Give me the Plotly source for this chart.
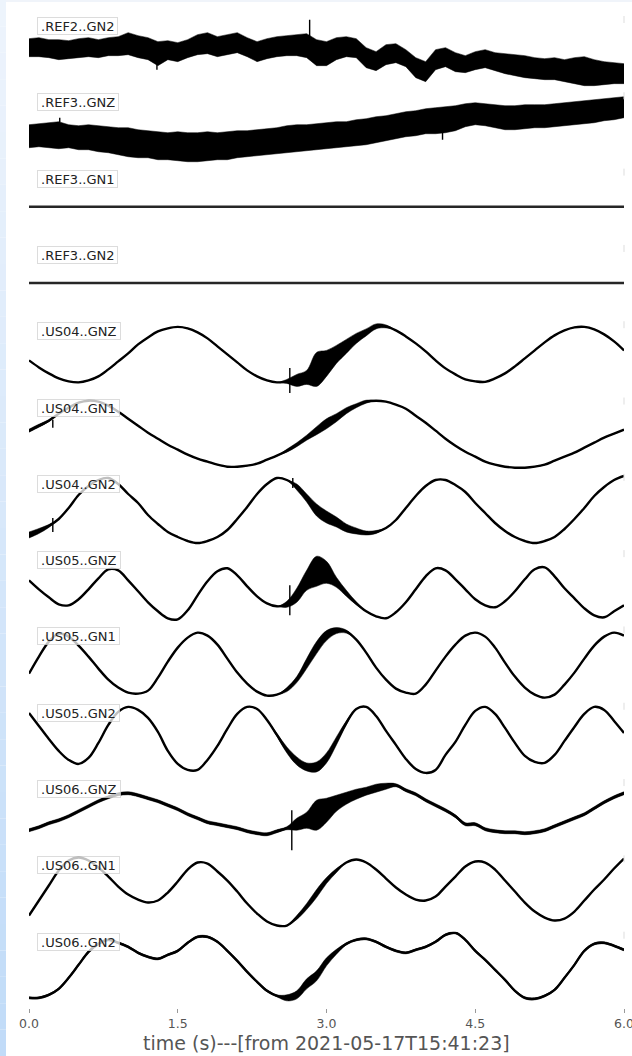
import plotly.graph_objects as go

# Sample times (s) after 2021-05-17T15:41:23
TIME_S = [0.0, 0.1, 0.2, 0.3, 0.4, 0.5, 0.6, 0.7, 0.8, 0.9,
          1.0, 1.1, 1.2, 1.3, 1.4, 1.5, 1.6, 1.7, 1.8, 1.9,
          2.0, 2.1, 2.2, 2.3, 2.4, 2.5, 2.6, 2.7, 2.8, 2.9,
          3.0, 3.1, 3.2, 3.3, 3.4, 3.5, 3.6, 3.7, 3.8, 3.9,
          4.0, 4.1, 4.2, 4.3, 4.4, 4.5, 4.6, 4.7, 4.8, 4.9,
          5.0, 5.1, 5.2, 5.3, 5.4, 5.5, 5.6, 5.7, 5.8, 5.9,
          6.0]

STATION_NAMES = [".REF2..GN2", ".REF3..GNZ", ".REF3..GN1", ".REF3..GN2",
                 ".US04..GNZ", ".US04..GN1", ".US04..GN2",
                 ".US05..GNZ", ".US05..GN1", ".US05..GN2",
                 ".US06..GNZ", ".US06..GN1", ".US06..GN2"]

X_TICKS = [0.0, 1.5, 3.0, 4.5, 6.0]
X_TICK_TEXT = ["0.0", "1.5", "3.0", "4.5", "6.0"]
X_TITLE = "time (s)---[from 2021-05-17T15:41:23]"

# Trace amplitudes (mean level) and peak-to-peak noise width, arbitrary counts
REF2_GN2 = [6.5, 7, 5.5, 4.5, 4.5, 6, 7, 5.5, 7.5, 8,
            10.5, 7.5, 5.5, 0.5, 4, 2, 5.5, 9.5, 11, 7.5,
            9.5, 11.5, 7, 2.5, 5.5, 7.5, 8.5, 9, 8.5, 1.5,
            0.5, 5.5, 7.5, 6, -3.5, -7, -0.5, 1, -4, -13.5,
            -17.5, -5.5, -3, -8, -10, -6.5, -4.5, -7.5, -9.5, -11,
            -12.5, -14, -15, -14.5, -16.5, -16.5, -17, -18.5, -19, -19,
            -19.5]
REF2_GN2_SPREAD = [18, 19, 18, 20, 18, 19, 19, 18, 18, 19,
                   22, 22, 22, 24, 19, 19, 18, 20, 21, 20,
                   20, 20, 19, 20, 20, 20, 20, 21, 24, 26,
                   24, 22, 20, 19, 20, 19, 20, 19, 17, 20,
                   20, 20, 19, 19, 17, 18, 18, 18, 20, 21,
                   22, 21, 21, 22, 22, 26, 29, 26, 23, 21,
                   20]
REF2_GN2_SPIKES = [(1.29, -10.0, -15.5), (2.83, 14.0, 34.5)]

REF3_GNZ = [-5.75, -4.75, -4.75, -4.75, -5.75, -7.25, -6.75, -8.25, -9.25, -10.75,
            -11.75, -13.25, -13.75, -15.25, -15.75, -15.75, -16.75, -16.75, -15.75, -15.75,
            -15.25, -13.75, -13.25, -12.25, -11.25, -10.25, -8.75, -7.75, -7.25, -6.25,
            -5.25, -4.25, -3.75, -2.25, -1.25, 0.75, 2.25, 4.25, 6.25, 7.25,
            9.25, 9.75, 10.75, 12.25, 15.25, 16.75, 15.75, 14.25, 12.75, 12.75,
            13.75, 14.25, 14.25, 15.25, 16.25, 17.25, 18.25, 19.25, 20.75, 21.75,
            23.25]
REF3_GNZ_SPREAD = [23, 23, 25, 27, 23, 24, 25, 26, 26, 27,
                   29, 28, 27, 28, 27, 29, 29, 29, 29, 27,
                   28, 27, 26, 26, 26, 26, 27, 27, 26, 26,
                   26, 26, 25, 26, 26, 26, 25, 25, 25, 25,
                   25, 26, 26, 25, 23, 22, 22, 23, 24, 24,
                   24, 23, 23, 23, 23, 23, 23, 23, 22, 22,
                   21]
REF3_GNZ_SPIKES = [(0.31, 8.0, 12.75), (4.17, -1.0, -9.25)]

REF3_GN1 = [0, 0, 0, 0, 0, 0, 0, 0, 0, 0,
            0, 0, 0, 0, 0, 0, 0, 0, 0, 0,
            0, 0, 0, 0, 0, 0, 0, 0, 0, 0,
            0, 0, 0, 0, 0, 0, 0, 0, 0, 0,
            0, 0, 0, 0, 0, 0, 0, 0, 0, 0,
            0, 0, 0, 0, 0, 0, 0, 0, 0, 0,
            0]

REF3_GN2 = [0, 0, 0, 0, 0, 0, 0, 0, 0, 0,
            0, 0, 0, 0, 0, 0, 0, 0, 0, 0,
            0, 0, 0, 0, 0, 0, 0, 0, 0, 0,
            0, 0, 0, 0, 0, 0, 0, 0, 0, 0,
            0, 0, 0, 0, 0, 0, 0, 0, 0, 0,
            0, 0, 0, 0, 0, 0, 0, 0, 0, 0,
            0]

US04_GNZ = [-1, -8, -14, -19, -22, -23, -21, -17, -10, -2,
            6, 15, 22, 28, 31, 32.5, 31, 27, 21, 13,
            5, -3, -11, -17, -21, -23, -22, -21, -18, -10,
            -4, 5, 13, 21, 27, 33, 33, 29, 23, 16,
            8, -1, -9, -15, -20, -22, -22.5, -19, -14, -7,
            1, 9, 17, 24, 29, 32, 32.5, 30, 25, 18,
            9]
US04_GNZ_SPREAD = [0, 0, 0, 0, 0, 0, 0, 0, 0, 0,
                   0, 0, 0, 0, 0, 0, 0, 0, 0, 0,
                   0, 0, 0, 0, 0, 0, 4, 12, 14, 34,
                   26, 18, 14, 10, 7, 5, 3, 0, 0, 0,
                   0, 0, 0, 0, 0, 0, 0, 0, 0, 0,
                   0, 0, 0, 0, 0, 0, 0, 0, 0, 0,
                   0]
US04_GNZ_SPIKES = [(2.63, -8.5, -33.5)]

US04_GN1 = [5, 10, 15, 22, 28, 33, 35, 34, 30, 24,
            17, 10, 3, -3, -9, -14, -19, -23, -26, -29,
            -31, -31, -30, -28, -24, -20, -15, -9, -2, 5,
            12, 18, 25, 30, 34, 35, 34, 31, 27, 20,
            13, 5, -3, -10, -16, -21, -26, -29, -31, -32,
            -32, -31, -29, -25, -21, -17, -12, -7, -2, 2,
            6]
US04_GN1_SPREAD = [3, 3, 2, 0, 0, 0, 0, 0, 0, 0,
                   0, 0, 0, 0, 0, 0, 0, 0, 0, 0,
                   0, 0, 0, 0, 0, 0, 3, 4, 5, 8,
                   10, 8, 6, 4, 3, 0, 0, 0, 0, 0,
                   0, 0, 0, 0, 0, 0, 0, 0, 0, 0,
                   0, 0, 0, 0, 0, 0, 0, 0, 0, 0,
                   0]
US04_GN1_SPIKES = [(0.24, 16.0, 8.0)]

US04_GN2 = [-23, -19, -14, -7, 4, 17, 26, 32, 34, 28,
            18, 9, -3, -12, -20, -25, -29, -31, -29, -25,
            -18, -7, 5, 18, 28, 34, 32, 25, 14, 2,
            -5, -10, -16, -19, -21, -20, -16, -8, 4, 16,
            26, 32, 32, 27, 20, 9, -1, -11, -19, -25,
            -29, -31, -29, -25, -17, -7, 4, 16, 25, 32,
            36]
US04_GN2_SPREAD = [6, 5, 3, 0, 0, 0, 0, 0, 0, 0,
                   0, 0, 0, 0, 0, 0, 0, 0, 0, 0,
                   0, 0, 0, 0, 0, 0, 0, 6, 8, 12,
                   12, 10, 8, 6, 4, 3, 0, 0, 0, 0,
                   0, 0, 0, 0, 0, 0, 0, 0, 0, 0,
                   0, 0, 0, 0, 0, 0, 0, 0, 0, 0,
                   0]
US04_GN2_SPIKES = [(0.24, -6.0, -20.0), (2.66, 34.0, 24.0)]

US05_GNZ = [8, -1, -9, -16, -17, -11, -1, 10, 19, 18,
            8, -3, -14, -23, -30, -31, -22, -7, 7, 17,
            20, 13, 2, -8, -15, -18, -16, -7, 8, 17,
            16, 6, -5, -15, -23, -28, -30, -24, -14, -1,
            12, 20, 18, 9, -1, -11, -17, -19, -13, -3,
            9, 19, 21, 12, 0, -10, -20, -27, -29, -23,
            -17]
US05_GNZ_SPREAD = [0, 0, 0, 0, 0, 0, 0, 0, 0, 0,
                   0, 0, 0, 0, 0, 0, 0, 0, 0, 0,
                   0, 0, 0, 0, 0, 0, 6, 14, 20, 30,
                   22, 10, 6, 3, 0, 0, 0, 0, 0, 0,
                   0, 0, 0, 0, 0, 0, 0, 0, 0, 0,
                   0, 0, 0, 0, 0, 0, 0, 0, 0, 0,
                   0]
US05_GNZ_SPIKES = [(2.63, 3.0, -27.0)]

US05_GN1 = [-9, 8, 23, 31, 28, 19, 8, -4, -15, -23,
            -28, -29, -26, -13, 3, 17, 27, 32, 29, 20,
            6, -8, -19, -27, -31, -30, -25, -15, 1, 17,
            29, 34, 33, 25, 12, -3, -15, -24, -28, -29,
            -20, -6, 8, 20, 29, 32, 28, 17, 2, -12,
            -23, -30, -33, -30, -20, -8, 6, 19, 28, 32,
            29]
US05_GN1_SPREAD = [0, 0, 0, 0, 0, 0, 0, 0, 0, 0,
                   0, 0, 0, 0, 0, 0, 0, 0, 0, 0,
                   0, 0, 0, 0, 0, 0, 4, 6, 10, 12,
                   10, 6, 3, 0, 0, 0, 0, 0, 0, 0,
                   0, 0, 0, 0, 0, 0, 0, 0, 0, 0,
                   0, 0, 0, 0, 0, 0, 0, 0, 0, 0,
                   0]

US05_GN2 = [28, 15, 2, -10, -19, -23, -17, -2, 16, 29,
            34, 31, 23, 9, -10, -23, -29, -29, -19, -5,
            12, 27, 34, 32, 21, 6, -9, -20, -26, -26,
            -17, 0, 18, 32, 34, 25, 10, -4, -18, -28,
            -32, -29, -14, -1, 16, 30, 34, 27, 13, -2,
            -15, -21, -22, -14, 0, 14, 27, 34, 31, 20,
            8]
US05_GN2_SPREAD = [0, 0, 0, 0, 0, 0, 0, 0, 0, 0,
                   0, 0, 0, 0, 0, 0, 0, 0, 0, 0,
                   0, 0, 0, 0, 0, 3, 6, 8, 8, 10,
                   10, 8, 4, 0, 0, 0, 0, 0, 0, 0,
                   0, 0, 0, 0, 0, 0, 0, 0, 0, 0,
                   0, 0, 0, 0, 0, 0, 0, 0, 0, 0,
                   0]

US06_GNZ = [-13, -10, -6, -3, 1, 6, 11, 16, 20, 23,
            24, 22, 19, 16, 12, 8, 3, -1, -5, -7,
            -9, -11, -14, -16, -17, -14, -11, -7, -3, 2,
            7, 14, 19, 23, 26, 29, 31, 32, 27, 23,
            17, 12, 7, 1, -7, -7, -12, -14, -15, -15,
            -16, -15, -13, -9, -5, -1, 3, 9, 15, 20,
            24]
US06_GNZ_SPREAD = [3, 3, 3, 3, 3, 3, 3, 3, 3, 3,
                   3, 3, 3, 3, 3, 3, 3, 3, 3, 3,
                   3, 3, 3, 3, 3, 3, 3, 12, 16, 30,
                   24, 16, 12, 10, 8, 8, 6, 3, 3, 3,
                   3, 3, 3, 3, 3, 3, 3, 3, 3, 3,
                   3, 3, 3, 3, 3, 3, 3, 3, 3, 3,
                   3]
US06_GNZ_SPIKES = [(2.65, 7.0, -33.0)]

US06_GN1 = [-22, -7, 8, 23, 33, 36, 33, 26, 17, 7,
            -1, -6, -9, -7, 1, 12, 24, 31, 30, 22,
            13, 2, -10, -20, -28, -32, -32, -24, -13, 0,
            13, 23, 31, 34, 31, 24, 15, 6, -1, -6,
            -7, -3, 7, 17, 27, 32, 31, 24, 13, 2,
            -9, -18, -24, -27, -25, -18, -7, 4, 14, 25,
            35]
US06_GN1_SPREAD = [0, 0, 0, 0, 0, 0, 0, 0, 0, 0,
                   0, 0, 0, 0, 0, 0, 0, 0, 0, 0,
                   0, 0, 0, 0, 0, 0, 0, 4, 6, 8,
                   6, 4, 0, 0, 0, 0, 0, 0, 0, 0,
                   0, 0, 0, 0, 0, 0, 0, 0, 0, 0,
                   0, 0, 0, 0, 0, 0, 0, 0, 0, 0,
                   0]

US06_GN2 = [-28, -28, -25, -19, -8, 5, 18, 26, 30, 27,
            23, 17, 13, 11, 15, 19, 27, 33, 33, 28,
            19, 9, -2, -12, -21, -26, -28, -25, -14, -6,
            8, 18, 26, 30, 31, 28, 23, 19, 17, 20,
            23, 28, 35, 37, 30, 19, 10, 0, -10, -21,
            -28, -29, -26, -20, -8, 5, 19, 26, 27, 24,
            20]
US06_GN2_SPREAD = [2, 2, 2, 2, 2, 2, 2, 2, 2, 2,
                   2, 2, 2, 2, 2, 2, 2, 2, 2, 2,
                   2, 2, 2, 2, 2, 2, 6, 8, 10, 10,
                   8, 5, 2, 2, 2, 2, 2, 2, 2, 2,
                   2, 2, 2, 2, 2, 2, 2, 2, 2, 2,
                   2, 2, 2, 2, 2, 2, 2, 2, 2, 2,
                   2]

CHANNELS = [
    (REF2_GN2, REF2_GN2_SPREAD, REF2_GN2_SPIKES),
    (REF3_GNZ, REF3_GNZ_SPREAD, REF3_GNZ_SPIKES),
    (REF3_GN1, None, []),
    (REF3_GN2, None, []),
    (US04_GNZ, US04_GNZ_SPREAD, US04_GNZ_SPIKES),
    (US04_GN1, US04_GN1_SPREAD, US04_GN1_SPIKES),
    (US04_GN2, US04_GN2_SPREAD, US04_GN2_SPIKES),
    (US05_GNZ, US05_GNZ_SPREAD, US05_GNZ_SPIKES),
    (US05_GN1, US05_GN1_SPREAD, []),
    (US05_GN2, US05_GN2_SPREAD, []),
    (US06_GNZ, US06_GNZ_SPREAD, US06_GNZ_SPIKES),
    (US06_GN1, US06_GN1_SPREAD, []),
    (US06_GN2, US06_GN2_SPREAD, []),
]

# ---- layout geometry ----
W, H = 632, 1056
M_L, M_R, M_T, M_B = 29, 8, 16, 48
PLOT_W = W - M_L - M_R
PLOT_H = H - M_T - M_B
N = len(CHANNELS)
HALF_RANGE = PLOT_H / N / 2.0
FONT = "DejaVu Sans"

fig = go.Figure()
layout_axes = {}
annotations = []
shapes = []

for i, (name, (values, spread, spikes)) in enumerate(zip(STATION_NAMES, CHANNELS)):
    ax = "y" if i == 0 else f"y{i + 1}"
    ax_key = "yaxis" if i == 0 else f"yaxis{i + 1}"
    top = 1 - i / N
    bottom = 1 - (i + 1) / N
    layout_axes[ax_key] = dict(domain=[bottom, top], range=[-HALF_RANGE, HALF_RANGE],
                               visible=False, fixedrange=True)

    line_color = "#000000" if i not in (2, 3) else "#262626"
    band_shape = "linear" if i < 2 else "spline"

    # noise envelope drawn as a filled band around the trace
    if spread is not None and any(s > 0 for s in spread):
        lower = [v - s / 2.0 for v, s in zip(values, spread)]
        upper = [v + s / 2.0 for v, s in zip(values, spread)]
        fig.add_trace(go.Scatter(x=TIME_S, y=lower, yaxis=ax, mode="lines",
                                 line=dict(width=0.5, color="black", shape=band_shape),
                                 hoverinfo="skip", showlegend=False))
        fig.add_trace(go.Scatter(x=TIME_S, y=upper, yaxis=ax, mode="lines",
                                 line=dict(width=0.5, color="black", shape=band_shape),
                                 fill="tonexty", fillcolor="black",
                                 hoverinfo="skip", showlegend=False))

    fig.add_trace(go.Scatter(x=TIME_S, y=values, yaxis=ax, mode="lines", name=name,
                             line=dict(width=2.4, shape="spline", color=line_color),
                             showlegend=False))

    if spikes:
        sx, sy = [], []
        for t, a, b in spikes:
            sx += [t, t, None]
            sy += [a, b, None]
        fig.add_trace(go.Scatter(x=sx, y=sy, yaxis=ax, mode="lines",
                                 line=dict(width=1.4, color="black"),
                                 hoverinfo="skip", showlegend=False))

    annotations.append(dict(
        text=name, x=7.7 / PLOT_W, xref="paper", xanchor="left",
        y=1, yref=f"{ax} domain", yanchor="top", yshift=-1,
        showarrow=False, font=dict(family=FONT, size=13, color="#222222"),
        bgcolor="rgba(255,255,255,0.75)", bordercolor="rgba(205,205,205,0.7)",
        borderwidth=1, borderpad=3, height=10))

    # faint right-edge stub at the top of each panel
    shapes.append(dict(type="line", xref="paper", yref=f"{ax} domain",
                       x0=1, x1=1, y0=1, y1=1 - 7 / (PLOT_H / N),
                       line=dict(color="#dddddd", width=1)))

annotations.append(dict(
    text=X_TITLE, x=0.5, xref="paper", xanchor="center",
    y=-(1043 - (H - M_B)) / PLOT_H, yref="paper", yanchor="middle",
    showarrow=False, font=dict(family=FONT, size=19, color="#555555")))

# page-edge tint on the left and top
n_bands = 40
c_top = (238, 244, 252)
c_bot = (192, 219, 248)
for b in range(n_bands):
    f = (b + 0.5) / n_bands
    col = tuple(round(c_top[j] + (c_bot[j] - c_top[j]) * f) for j in range(3))
    y_hi = 1 + M_T / PLOT_H - b * (H / n_bands) / PLOT_H
    y_lo = 1 + M_T / PLOT_H - (b + 1) * (H / n_bands) / PLOT_H
    shapes.append(dict(type="rect", xref="paper", yref="paper",
                       x0=-M_L / PLOT_W, x1=-(M_L - 6) / PLOT_W, y0=y_lo, y1=y_hi,
                       fillcolor="rgb(%d,%d,%d)" % col, line=dict(width=0), layer="above"))
shapes.append(dict(type="rect", xref="paper", yref="paper",
                   x0=-(M_L - 6) / PLOT_W, x1=1 + M_R / PLOT_W,
                   y0=1 + (M_T - 2) / PLOT_H, y1=1 + M_T / PLOT_H,
                   fillcolor="rgb(240,244,250)", line=dict(width=0), layer="above"))

fig.update_layout(
    width=W, height=H,
    margin=dict(l=M_L, r=M_R, t=M_T, b=M_B, pad=0, autoexpand=False),
    paper_bgcolor="white", plot_bgcolor="white",
    showlegend=False,
    font=dict(family=FONT),
    xaxis=dict(range=[0, 6], anchor="y13", tickmode="array",
               tickvals=X_TICKS, ticktext=X_TICK_TEXT,
               ticks="outside", ticklen=4, tickwidth=1, tickcolor="#999999",
               tickfont=dict(family=FONT, size=12.5, color="#555555"),
               ticklabeloverflow="allow", automargin=False,
               showgrid=False, zeroline=False, showline=False, fixedrange=True),
    annotations=annotations,
    shapes=shapes,
    **layout_axes,
)

fig.write_html("out.html")
